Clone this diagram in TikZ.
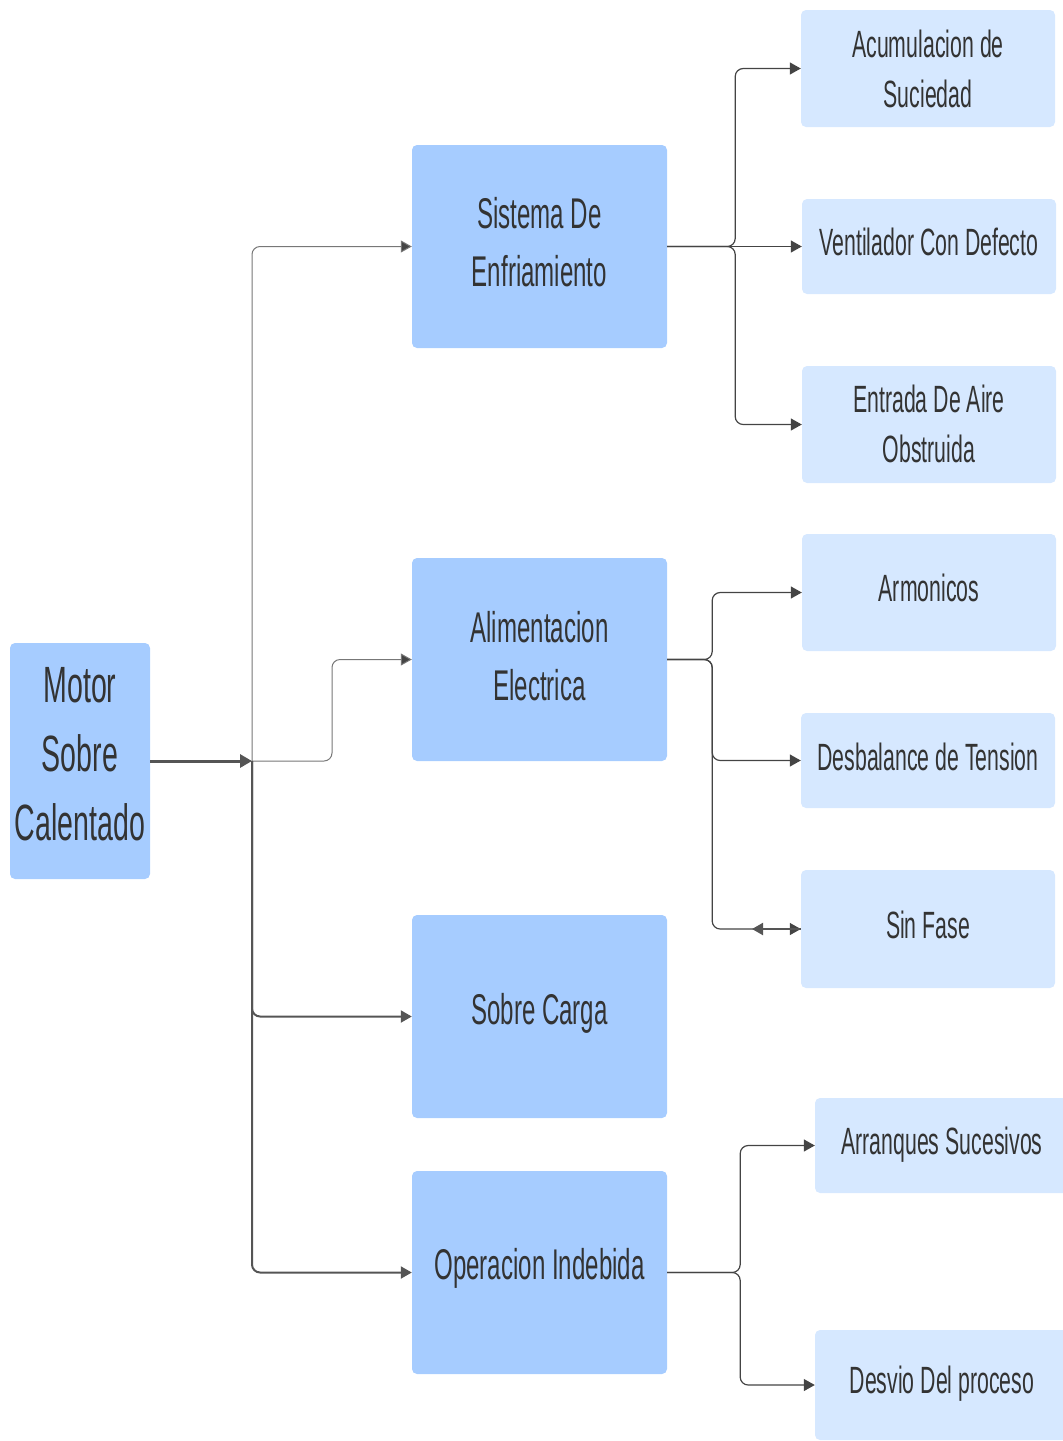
\documentclass[tikz,border=0pt]{standalone}
\usepackage{fontspec}
\setmainfont{Liberation Sans}[FakeStretch=0.56]
\usetikzlibrary{arrows.meta}
\definecolor{boxdark}{HTML}{A6CCFF}
\definecolor{boxlight}{HTML}{D6E8FF}
\definecolor{txt}{HTML}{333333}
\definecolor{linedark}{HTML}{555555}
\definecolor{linethin}{HTML}{777777}
\definecolor{lineright}{HTML}{444444}
\tikzset{
  boxbase/.style={rectangle, rounded corners=5pt, inner sep=0pt},
  mainbox/.style={boxbase, fill=boxdark, minimum width=255pt, minimum height=203pt},
  rootbox/.style={boxbase, fill=boxdark, minimum width=140pt, minimum height=236pt},
  leafbox/.style={boxbase, fill=boxlight, minimum width=254pt},
  labelbase/.style={inner sep=0pt, align=center, text=txt},
  maintext/.style={labelbase, font=\fontsize{43}{58}\selectfont},
  roottext/.style={labelbase, font=\fontsize{51}{69}\selectfont},
  leaftext/.style={labelbase, font=\fontsize{38}{50}\selectfont},
  thinlink/.style={-{Triangle[length=11pt,width=12pt,fill=lineright]}, draw=linethin, line width=1pt, rounded corners=8pt},
  midlink/.style={-{Triangle[length=11pt,width=12pt,fill=linedark]}, draw=linedark, line width=2pt, rounded corners=8pt},
  rootlink/.style={-{Triangle[length=12pt,width=13pt,fill=linedark]}, draw=linedark, line width=3pt},
  leaflink/.style={-{Triangle[length=11pt,width=12pt,fill=lineright]}, draw=lineright, line width=1.2pt, rounded corners=8pt},
  backlink/.style={-{Triangle[length=11pt,width=12pt,fill=linedark]}, draw=linedark, line width=2pt},
}
\begin{document}
\begin{tikzpicture}[x=1pt,y=-1pt]
\useasboundingbox (0,0) rectangle (1063,1441);
\clip (0,0) rectangle (1063,1441);

% root and first-level causes
\node[rootbox] (motor) at (80,761) {};
\node[roottext] (motortext) at ([yshift=7pt]motor.center) {Motor\\Sobre\\Calentado};
\node[mainbox] (sis) at (539.5,246.5) {};
\node[maintext] (sistext) at ([yshift=4pt]sis.center) {Sistema De\\Enfriamiento};
\node[mainbox] (ali) at (539.5,659.5) {};
\node[maintext] (alitext) at ([yshift=3.5pt]ali.center) {Alimentacion\\Electrica};
\node[mainbox] (sob) at (539.5,1016.5) {};
\node[maintext] (sobtext) at ([yshift=3.5pt]sob.center) {Sobre Carga};
\node[mainbox] (ope) at (539.5,1272.5) {};
\node[maintext] (opetext) at ([yshift=4pt]ope.center) {Operacion Indebida};

% second-level causes
\node[leafbox, minimum height=117pt] (acu) at (928,68.5) {};
\node[leaftext] (acutext) at (acu.center) {Acumulacion de\\Suciedad};
\node[leafbox, minimum height=95pt] (ven) at (929,246.5) {};
\node[leaftext] (ventext) at ([yshift=4.5pt]ven.center) {Ventilador Con Defecto};
\node[leafbox, minimum height=117pt] (ent) at (929,424.5) {};
\node[leaftext] (enttext) at ([yshift=0.5pt]ent.center) {Entrada De Aire\\Obstruida};
\node[leafbox, minimum height=117pt] (arm) at (929,592.5) {};
\node[leaftext] (armtext) at ([yshift=4.5pt]arm.center) {Armonicos};
\node[leafbox, minimum height=95pt] (des) at (928,760.5) {};
\node[leaftext] (destext) at ([yshift=4pt]des.center) {Desbalance de Tension};
\node[leafbox, minimum height=118pt] (sin) at (928,929) {};
\node[leaftext] (sintext) at ([yshift=4.5pt]sin.center) {Sin Fase};
\node[leafbox, minimum height=95pt, minimum width=256pt] (arr) at (943,1145.5) {};
\node[leaftext] (arrtext) at ([xshift=-1pt,yshift=1pt]arr.center) {Arranques Sucesivos};
\node[leafbox, minimum height=110pt, minimum width=256pt] (dev) at (943,1385) {};
\node[leaftext] (devtext) at ([xshift=-1pt,yshift=1.5pt]dev.center) {Desvio Del proceso};

% trunk from the root
\coordinate (jn) at (252,761);
\draw[rootlink] (motor.east) -- (jn);
\draw[thinlink] (jn) |- (sis.west);
\draw[thinlink] (jn) -- ++(80,0) |- (ali.west);
\draw[midlink] (jn) |- (sob.west);
\draw[midlink] (jn) |- (ope.west);

% cooling system branches
\draw[leaflink] (sis.east) -- ++(68,0) |- (acu.west);
\draw[leaflink] (sis.east) -- (ven.west);
\draw[leaflink] (sis.east) -- ++(68,0) |- (ent.west);

% power supply branches
\draw[leaflink] (ali.east) -- ++(45,0) |- (arm.west);
\draw[leaflink] (ali.east) -- ++(45,0) |- (des.west);
\draw[leaflink] (ali.east) -- ++(45,0) |- (sin.west);
\coordinate (sinback) at (752,929);
\draw[backlink] (sin.west) -- (sinback);

% improper operation branches
\draw[leaflink] (ope.east) -- ++(73,0) |- (arr.west);
\draw[leaflink] (ope.east) -- ++(73,0) |- (dev.west);
\end{tikzpicture}
\end{document}
